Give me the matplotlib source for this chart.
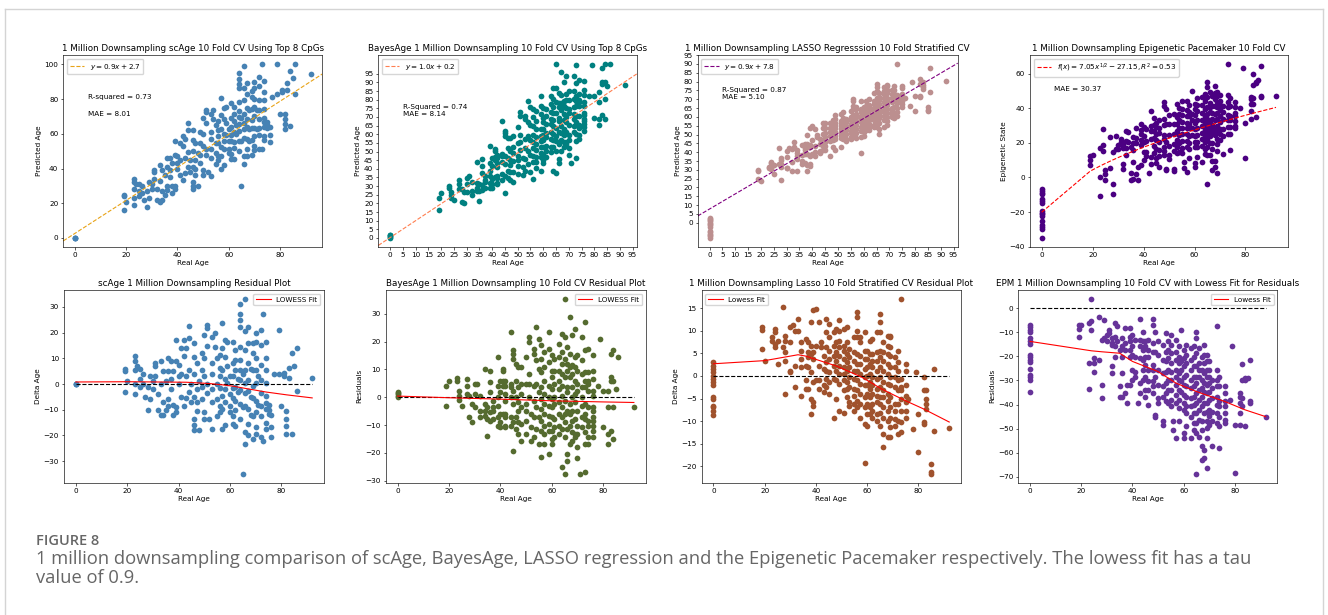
import numpy as np
import matplotlib
matplotlib.use('Agg')
import matplotlib.pyplot as plt
from matplotlib.lines import Line2D

# (real age, predicted - real)
scage_points = [
    (0, 0), (0, 0), (0, 0),
    (19, 6), (19, 5), (19, -3), (20, 1), (23, 11), (23, 9), (23, 5.5), (23, 0), (23, -4),
    (24, 7), (25, 2), (25, -1), (25, 6), (26, 4), (26, 0), (27, -5), (28, -10), (28, -1),
    (29, -6), (29, 3), (30, -2), (30, 1),
    (31, 8), (31, 7), (31, 3), (32, -4), (32, -10), (33, 9), (33, 0), (33, -12), (34, -7),
    (34, 5), (34, -12), (35, -10), (35, 1), (36, 10), (36, 5), (36, -6), (36, -8.5), (37, 9),
    (37, -2), (37, 2), (38, -8), (38, -12), (38, 5), (39, 17), (39, 9), (39, -11), (39, -9),
    (40, 7.5), (40, 0), (40, 3), (41, 14), (41, 4), (41, -5),
    (42, 17), (42, 11), (42, -8.6), (43, 14), (43, 3), (43, -5.4), (44, 22.5), (44, 18),
    (44, 5.5), (44, -3), (45, 0), (45, -7), (46, 16), (46, 10.7), (46, -13.7), (46, -16),
    (46, -18), (46, -5), (46, 4), (47, 8), (47, -2), (47, -7), (47, -10.5), (48, -18), (48, 1),
    (49, 12), (49, 5.5), (49, -1), (49, -6), (50, 19), (50, 10), (50, 3), (50, -11), (50, -13.7),
    (51, 23), (51, 21.8), (51, 15), (51, 0), (51, -3.4), (52, -13.7), (53, 18.4), (53, 8),
    (53, 4), (53, -2), (53, -7), (53, -17.5), (54, 19.7), (54, 14.6), (55, 10), (55, 0),
    (55, -6), (55, -12.4), (56, 11.4), (56, 6.2), (56, 3), (56, -1.5), (56, -8.5), (56, -11),
    (57, 23.6), (57, 14), (57, 5.5), (57, -4.7), (57, -9.8), (57, -17.5), (58, 17), (58, 10.7),
    (58, 2), (58, -2), (58, -7), (58, -16), (59, 16.5), (59, 7), (59, 0.5), (60, -4), (60, -8.5),
    (60, -11), (60, 3),
    (61, 16.5), (61, 8), (61, 3), (61, -1.5), (61, -5.4), (61, -12.4), (61, -15.6), (62, 13.3),
    (62, 9.4), (62, 5.5), (62, -1), (62, -6.6), (62, -10), (62, -16.3), (63, 2), (63, -3),
    (64, 31.3), (64, 27.4), (64, 24.8), (64, 22.3), (64, 14.6), (64, 9.4), (64, 5.5), (64, 1.7),
    (64, -2.2), (64, -7.9), (64, -13.7), (65, -35), (65, 4), (65, -9), (66, 33.2), (66, 20.5),
    (66, 13.3), (66, 5.5), (66, 0.4), (66, -3.5), (66, -8.6), (66, -18.8), (66, -23.3),
    (67, 22.3), (67, 15.9), (67, 8), (67, 1.7), (67, -2.8), (67, -9.8), (67, -15.6), (67, -20),
    (68, 6), (68, -5), (68, -12), (69, 15.9), (69, 12), (69, 5.5), (69, -0.9), (69, -5.4),
    (69, -12.4), (69, -21.4), (70, 19.7), (70, 16.5), (70, 10.2), (70, 5.5), (70, 0.4),
    (70, -6.6), (70, -11), (70, -16.9), (70, -19.5),
    (71, 3), (71, -8), (72, 21), (72, 15.3), (72, 7.5), (72, 1.7), (72, -3.5), (72, -8.6),
    (72, -12.4), (72, -20.8), (73, 27.4), (73, -22), (74, 16.5), (74, 10.2), (74, 5.5),
    (74, 0.4), (74, -4.7), (74, -7.3), (74, -9.8), (74, -15), (74, -17.5), (75, -8), (75, -10),
    (75, -11.7), (76, -16.9), (76, -20.8), (76, -12), (77, 4), (79, 21), (79, 4), (80, -8.6),
    (81, 4.3), (81, 3), (82, -10.5), (82, -13.7), (82, -16.3), (82, -19.5), (83, 6.2), (83, 2.4),
    (84, 12), (84, -19.5), (85, 7), (86, 14), (86, -2.8), (92, 2.4),
]

bayes_points = [
    (0, 0), (0, 0.5), (0, 1), (0, 1.5), (0, 2),
    (19, 4), (19, -3), (20, 6), (23, 7), (23, 6), (24, 2.4), (24, 0.6), (24, -1), (25, -3),
    (27, 6.6), (27, 4), (27, 1.2), (28, -7), (28, 0.6), (29, -9), (29, -2.4), (30, 4.8),
    (30, 1.2), (30, -3.6), (31, 4.8), (32, 0.6), (32, -4.8), (32, -7), (34, 10.2), (34, -2.4),
    (34, -4.8), (34, -6.6), (35, -13.8), (35, -3.6), (35, -7.8), (36, 9.6), (36, 5.4),
    (36, 1.8), (36, -5.4), (36, -8.4), (37, -1.2), (37, -3.6), (37, -4.8), (37, -7.8),
    (39, 14.4), (39, 4.2), (39, 0), (39, -3), (39, -7.2), (39, -10.2), (40, 6), (40, 1.8),
    (40, -6), (40, -9), (40, -10.8), (41, 9.6), (41, 10.2), (41, 6), (41, 4.2), (41, -6),
    (42, 6), (42, 4.2), (42, 1.2), (42, -1.2), (42, -6), (42, -7.2), (42, -10.2), (42, -10.8),
    (44, 23.4), (44, 4.8), (44, 3.6), (44, 0), (44, -7.2), (44, -10.2), (45, 16.8), (45, 15.6),
    (45, 13.8), (45, 2.4), (45, -2.4), (45, -9), (45, -19.2), (46, 12), (46, 6), (46, 0),
    (46, -7.2), (46, -11.4), (47, 10.8), (47, 3.6), (47, -1.8), (47, -4.8), (47, -9),
    (47, -13.2), (48, 10.8), (48, 4.8), (48, 1.2), (48, -3.6), (48, -9.6), (48, -15.6),
    (50, 14.4), (50, 4.8), (50, -2.4), (50, -4.8), (50, -8.4), (50, -13.2), (51, 21.6),
    (51, 19.8), (51, 8.4), (51, 4.8), (51, 0), (52, -6), (52, -10.8), (52, -15.6), (53, 17.4),
    (53, 15.6), (53, 4.2), (53, -1.2), (53, -7.2), (53, -14.4), (54, 25.2), (55, 21),
    (54, 13.2), (55, 10.2), (54, 4.8), (55, 1.8), (54, -3.6), (55, -7.2), (54, -11.4),
    (55, -16.8), (56, 18.6), (56, 13.8), (56, 9), (56, 3.6), (56, -0.6), (56, -4.2), (56, -8.4),
    (56, -12), (56, -21.6), (57, 16.2), (57, 10.8), (57, 6), (57, 1.2), (57, -2.4), (57, -6),
    (57, -10.2), (57, -13.2), (57, -16.8), (59, 23.4), (59, 17.4), (59, 12.6), (59, 4.2),
    (59, 0), (59, -3), (59, -6.6), (59, -9.6), (59, -12), (59, -20.4), (60, 15), (60, 9.6),
    (60, 7.2), (60, 3), (60, -0.6), (60, -3.6), (60, -7.2), (60, -12), (60, -15), (60, -16.8),
    (61, 13.8), (61, 9.6), (61, 4.8), (61, 0), (61, -2.4), (61, -7.8), (61, -10.8), (61, -14.4),
    (63, 19.2), (63, 14.4), (63, 9.6), (63, 6), (63, 3), (63, -1.8), (63, -6), (63, -10.2),
    (63, -13.2), (64, 22.8), (64, 16.2), (64, 12), (64, 8.4), (64, 4.2), (64, 0.6), (64, -3.6),
    (64, -7.2), (64, -11.4), (64, -25.2), (65, 35.4), (65, 21.6), (65, 13.8), (65, 7.2),
    (65, -1.2), (65, -6), (65, -9), (65, -14.4), (65, -27.6), (66, 18), (66, 12), (66, 9.6),
    (66, 3.6), (66, 1.8), (66, -4.8), (66, -11.4), (66, -20.4), (66, -22.8), (67, 28.8),
    (67, 15.6), (67, 10.8), (67, 7.2), (67, -2.4), (67, -6), (67, -10.2), (67, -16.8),
    (68, 22.2), (68, 11.4), (68, 8.4), (68, 3.6), (68, 0), (68, -4.8), (68, -8.4), (68, -12.6),
    (68, -15.6), (69, 24.6), (69, 14.4), (69, 10.8), (69, 6), (69, 1.2), (69, -1.8), (69, -7.8),
    (69, -13.2), (69, -14.4), (70, 15), (70, 9.6), (70, 4.8), (70, 2.4), (70, -4.8), (70, -10.2),
    (70, -13.2), (70, -18), (70, -22), (71, -27.6), (72, 21.6), (72, 13.2), (72, 8.4), (72, 3.6),
    (72, 0), (72, -3), (72, -7.2), (72, -10.8), (73, 27), (73, 16.8), (73, 9), (73, 6), (73, 3.6),
    (73, -2.4), (73, -6), (73, -7.8), (73, -12.6), (73, -16.8), (73, -27), (74, 17.4), (74, 9),
    (74, 6), (74, 4.8), (74, 2.4), (74, -3.6), (74, -8.4), (74, -10.2), (74, -14.4), (74, -16.8),
    (76, 15), (76, 9.6), (76, 6.6), (76, 2.4), (76, 0.6), (76, -3.6), (76, -4.8), (76, -7.2),
    (76, -8.4), (76, -10.2), (76, -12), (76, -14.4), (78, 4.2), (79, 21), (80, -10.8), (80, 2.4),
    (82, 2.4), (82, -3.6), (82, -13.2), (82, -16.8), (83, 15.6), (83, 7.2), (83, 6), (83, -12),
    (84, 16.8), (84, 6), (84, -3.6), (84, -15), (85, 3), (86, 14.4), (92, -3.6),
]

lasso_points = [
    (0, 3.0), (0, 2.3), (0, 1.6), (0, 0.8), (0, 0.1), (0, -0.7), (0, -1.4), (0, -2.1),
    (0, -4.6), (0, -5.1), (0, -6.6), (0, -6.9), (0, -7.7), (0, -8.6),
    (19, 10.8), (19, 10.2), (19, 6.0), (20, 3.4), (23, 8.6), (23, 7.8), (24, 10.4), (24, 9.7),
    (24, 7.1), (24, 6.4), (25, 2.7), (25, 7.8), (27, 15.2), (27, 6.4), (28, 8.9), (28, 7.8),
    (28, 5.2), (28, 3.4), (28, -4.0), (30, 10.9), (30, 7.5), (30, 1.2), (30, 0.8), (31, 11.2),
    (32, 10.0), (32, 2.3), (32, -2.5), (33, 12.6), (33, 10.0), (34, 7.5), (34, 5.6), (34, 3.8),
    (34, 1.9), (34, -4.4), (36, 8.2), (36, 2.3), (36, -1.0), (36, -2.9), (37, 7.5), (37, 5.2),
    (37, 4.1), (37, 1.9), (37, -2.9), (38, 11.9), (38, 6.7), (38, 4.9), (38, 0.8), (38, -5.1),
    (38, -8.4), (39, 14.5), (39, 5.2), (39, 3.8), (39, -1.4), (39, -5.8), (39, -6.6), (40, 14.8),
    (40, 6.7), (40, -1.0), (41, 11.9), (41, 2.3), (41, -1.0), (41, -2.9), (42, 7.5), (42, 6.4),
    (43, 4.5), (43, 1.6), (43, -2.1), (43, -3.6), (44, 12.6), (44, 9.7), (44, 6.4), (44, 3.0),
    (44, 1.2), (44, -0.7), (44, -2.5), (45, 11.5), (45, 8.6), (45, 5.6), (45, 3.8), (45, 0.8),
    (45, -1.4), (45, -4.0), (47, 9.7), (47, 6.7), (47, 4.5), (47, 2.3), (47, -0.7), (47, -9.2),
    (48, 10.4), (48, 7.5), (48, 5.2), (48, 3.4), (48, 1.2), (48, -1.0), (48, -5.1), (49, 12.3),
    (49, 10.0), (49, 7.8), (49, 6.4), (49, 4.5), (49, 2.3), (49, 0.4), (49, -1.8), (49, -7.7),
    (51, 10.4), (51, 6.7), (51, 5.6), (51, 3.8), (51, 1.9), (51, 0.4), (51, -1.0), (51, -3.2),
    (51, -8.1), (52, 10.8), (52, 7.5), (52, 4.9), (52, 3.0), (52, 1.2), (52, -1.4), (52, -2.9),
    (52, -4.7), (53, 6.0), (53, 4.1), (53, 1.9), (53, -0.3), (53, -2.5), (53, -5.8), (53, -6.6),
    (55, 8.6), (55, 5.2), (55, 3.4), (55, 1.2), (55, -0.7), (55, -2.9), (55, -4.4), (55, -6.2),
    (55, -7.7), (56, 14.1), (56, 13.0), (56, 10.0), (56, 8.6), (56, 4.9), (56, 2.7), (56, 1.2),
    (56, -1.0), (56, -3.2), (56, -5.5), (56, -6.9), (57, 8.6), (57, 7.5), (57, 4.5), (57, 2.7),
    (57, 0.4), (57, -1.8), (57, -4.0), (57, -6.2), (57, -9.2), (59, 9.7), (59, 5.6), (59, 3.8),
    (59, 1.6), (59, -0.3), (59, -2.1), (59, -4.7), (59, -6.9), (59, -10.6), (59, -19.3),
    (60, 5.6), (60, 3.8), (60, 1.9), (60, 0.1), (60, -2.1), (60, -4.0), (60, -6.2), (60, -8.4),
    (60, -11.0), (61, 7.8), (61, 4.9), (61, 2.7), (61, 0.4), (61, -1.4), (61, -2.9), (61, -4.7),
    (61, -6.9), (61, -8.4), (62, 8.2), (62, 4.9), (62, 3.4), (62, 1.9), (62, -0.3), (62, -2.1),
    (62, -4.0), (62, -6.2), (62, -7.7), (62, -9.2), (64, 9.7), (64, 5.2), (64, 3.4), (64, 1.2),
    (64, -0.7), (64, -2.9), (64, -4.4), (64, -5.8), (64, -8.4), (64, -9.9), (65, 13.7),
    (65, 11.9), (65, 9.7), (65, 5.6), (65, 4.1), (65, 1.9), (65, -0.3), (65, -2.5), (65, -4.7),
    (65, -6.2), (65, -8.1), (65, -11.0), (66, 7.5), (66, 5.2), (66, 3.4), (66, 1.2), (66, -1.4),
    (66, -3.2), (66, -4.7), (66, -6.9), (66, -9.2), (66, -12.9), (66, -15.8), (68, 8.9),
    (68, 6.7), (68, 4.9), (68, 2.7), (68, 0.4), (68, -1.8), (68, -4.0), (68, -5.5), (68, -7.7),
    (68, -9.9), (68, -13.6), (69, 8.9), (69, 8.6), (69, 6.4), (69, 4.5), (69, 1.9), (69, -0.3),
    (69, -2.1), (69, -4.7), (69, -6.9), (69, -9.2), (69, -11.4), (69, -13.6), (71, 4.1),
    (71, 1.9), (71, -0.3), (71, -2.5), (71, -6.2), (71, -7.7), (71, -9.5), (71, -11.0),
    (72, 5.6), (72, 3.0), (72, 1.2), (72, -1.0), (72, -3.2), (72, -6.2), (72, -9.9), (72, -12.9),
    (73, 17.1), (73, -0.7), (73, -2.5), (73, -3.2), (73, -5.1), (73, -7.7), (73, -10.3),
    (73, -12.5), (75, 2.7), (75, 1.2), (75, -2.1), (75, -4.4), (75, -5.8), (75, -7.7), (75, -9.2),
    (76, -5.1), (78, -11.7), (79, 0.8), (80, -8.4), (80, -16.8), (82, -0.3), (82, -3.2),
    (82, -10.3), (82, -10.6), (83, -3.2), (83, -5.1), (83, -6.2), (83, -7.3), (85, -19.5),
    (85, -21.3), (85, -21.7), (86, 1.6), (86, -12.1), (92, -11.6),
]

# (real age, epigenetic state - real age)
epm_points = [
    (0, -6.9), (0, -7.9), (0, -9.0), (0, -9.7), (0, -12.5), (0, -13.8), (0, -14.8), (0, -19.4),
    (0, -20.3), (0, -21.4), (0, -22.5), (0, -25.3), (0, -27.7), (0, -28.6), (0, -29.7), (0, -35.0),
    (19, -6.9), (19, -8.7), (19, -12.0), (20, -6.9), (23, -22.8), (23, -33.5), (23, -6.2),
    (24, 3.9), (24, -5.5), (24, -9.0), (25, -20.7), (25, -22.8), (25, -26.7), (27, -3.5),
    (27, -21.4), (28, -13.1), (28, -31.8), (28, -37.3), (29, -4.8), (29, -12.5), (30, -13.8),
    (30, -11.1), (31, -9.0), (31, -10.4), (32, -12.5), (32, -14.5), (32, -15.2), (32, -24.2),
    (32, -27.0), (33, -6.2), (33, -11.8), (33, -15.9), (33, -20.1), (34, -7.6), (34, -13.8),
    (35, -17.3), (35, -32.5), (35, -36.7), (36, -12.5), (36, -15.9), (36, -20.1), (36, -27.0),
    (36, -36.7), (37, -8.3), (37, -14.5), (37, -17.3), (37, -35.3), (38, -39.4), (38, -31.8),
    (39, -8.3), (39, -11.8), (39, -13.8), (39, -17.3), (39, -20.1), (39, -31.8), (40, -11.1),
    (40, -15.9), (40, -19.4), (40, -25.6), (40, -29.7), (41, -13.1), (41, -20.1), (41, -26.3),
    (41, -28.4), (42, -39.4), (43, -4.6), (43, -13.1), (43, -15.9), (43, -20.7), (43, -31.1),
    (43, -35.3), (44, -9.7), (44, -13.8), (44, -17.3), (44, -21.4), (44, -25.6), (44, -29.7),
    (45, -13.8), (45, -15.9), (45, -20.1), (45, -23.5), (45, -28.4), (45, -33.9), (45, -36.7),
    (46, -13.1), (46, -17.3), (46, -20.1), (46, -25.6), (46, -30.4), (46, -33.9), (46, -40.1),
    (48, -4.6), (48, -6.9), (48, -14.5), (48, -18.0), (48, -23.5), (48, -25.6), (48, -30.4),
    (48, -32.5), (48, -35.3), (49, -9.7), (49, -18.0), (49, -28.4), (49, -44.3), (49, -45.0),
    (50, -13.8), (50, -19.4), (50, -25.6), (50, -31.8), (50, -37.3), (50, -39.4), (52, -15.2),
    (52, -21.4), (52, -27.0), (52, -32.5), (52, -36.7), (52, -47.0), (52, -48.4), (53, -10.4),
    (53, -18.0), (53, -22.1), (53, -26.3), (53, -31.1), (53, -35.3), (53, -38.7), (54, -13.8),
    (54, -17.3), (54, -20.7), (54, -25.6), (54, -29.7), (54, -33.9), (54, -39.4), (55, -11.1),
    (55, -15.2), (55, -18.7), (55, -22.8), (55, -26.3), (55, -29.7), (55, -33.9), (55, -38.0),
    (55, -40.8), (56, -47.0), (56, -50.5), (57, -13.1), (57, -18.0), (57, -21.4), (57, -25.6),
    (57, -28.4), (57, -31.8), (57, -36.0), (57, -39.4), (57, -53.9), (58, -15.9), (58, -20.1),
    (58, -22.8), (58, -27.0), (58, -29.7), (58, -33.9), (58, -38.0), (58, -41.5), (58, -47.0),
    (59, -9.0), (59, -22.1), (59, -25.6), (59, -30.4), (59, -34.6), (60, -17.3), (60, -20.7),
    (60, -24.2), (60, -28.4), (60, -31.8), (60, -36.0), (60, -39.4), (60, -42.2), (60, -51.9),
    (60, -53.9), (61, -15.2), (61, -19.4), (61, -22.8), (61, -27.7), (61, -32.5), (61, -36.7),
    (61, -40.8), (61, -43.6), (61, -49.1), (63, -16.6), (63, -21.4), (63, -25.6), (63, -29.7),
    (63, -33.2), (63, -37.3), (63, -40.8), (63, -45.0), (63, -53.9), (64, -15.9), (64, -20.1),
    (64, -24.2), (64, -28.4), (64, -32.5), (64, -36.7), (64, -40.1), (64, -43.6), (64, -47.7),
    (64, -50.5), (65, -9.7), (65, -12.5), (65, -18.7), (65, -24.2), (65, -28.4), (65, -31.1),
    (65, -35.3), (65, -39.4), (65, -43.6), (65, -47.7), (65, -51.9), (65, -68.8), (66, -16.6),
    (66, -22.8), (66, -25.6), (66, -28.4), (66, -33.9), (66, -38.0), (66, -42.2), (66, -46.3),
    (66, -53.3), (67, -20.1), (67, -25.6), (67, -29.7), (67, -33.2), (67, -36.7), (67, -40.8),
    (67, -47.0), (67, -50.5), (67, -57.4), (67, -62.9), (68, -15.2), (68, -19.4), (68, -22.8),
    (68, -27.0), (68, -31.1), (68, -34.6), (68, -39.4), (68, -43.6), (68, -58.8), (68, -62.2),
    (69, -19.4), (69, -22.1), (69, -25.6), (69, -28.4), (69, -31.8), (69, -35.3), (69, -39.4),
    (69, -42.9), (69, -47.0), (69, -49.8), (69, -53.9), (69, -66.4), (70, -22.1), (70, -25.6),
    (70, -28.4), (70, -31.1), (70, -34.6), (70, -38.0), (70, -42.2), (70, -44.9), (70, -48.4),
    (71, -29.7), (71, -33.2), (71, -37.3), (71, -42.9), (71, -47.0), (71, -57.4), (73, -7.3),
    (73, -25.6), (73, -29.7), (73, -32.5), (73, -36.7), (73, -40.1), (73, -43.6), (73, -47.7),
    (74, -28.4), (74, -32.5), (74, -38.7), (74, -40.8), (74, -45.0), (74, -49.1), (74, -58.1),
    (76, -32.5), (76, -35.3), (76, -38.7), (76, -40.8), (76, -43.6), (76, -46.3), (76, -47.7),
    (78, -38.0), (79, -15.9), (80, -68.5), (80, -48.4), (82, -35.3), (82, -36.7), (82, -39.4),
    (82, -43.6), (82, -48.4), (83, -23.2), (83, -29.7), (83, -37.3), (83, -40.8), (84, -29.0),
    (84, -29.7), (84, -49.1), (85, -28.8), (86, -21.4), (86, -38.7), (86, -39.4), (92, -45.0),
]

# lowess curves as drawn in the residual panels
scage_lowess = [(0, 0.8), (20, 0.9), (43, 0.7), (52, 0.2), (57, -0.3), (61, -0.8),
                (66, -1.7), (74, -3.1), (82, -4.2), (92, -5.4)]
bayes_lowess = [(0, 0.4), (20, -0.2), (40, -0.7), (60, -1.3), (80, -1.7), (92, -1.9)]
lasso_lowess = [(0, 2.7), (20, 3.4), (33, 4.7), (36, 4.4), (48, 2.2), (58, -0.3),
                (66, -3.0), (75, -5.5), (82, -7.3), (92, -10.2)]
epm_lowess = [(0, -13.8), (24, -17.7), (28, -18.1), (35, -18.7), (40, -22.1), (50, -26.3),
              (57, -31.1), (65, -34.6), (76, -38.7), (84, -42.2), (92, -45.0)]

# fitted lines shown in the top row (slope, intercept)
scage_fit = (0.95, 2.7)
bayes_fit = (0.98, 0.2)
lasso_fit = (0.855, 7.8)
epm_fit = (7.05, -27.15)

W, H = 1328, 615
DOT = 17
fig = plt.figure(figsize=(W / 100, H / 100), dpi=100)


def px_axes(x0, y0, x1, y1):
    return fig.add_axes([x0 / W, 1 - y1 / H, (x1 - x0) / W, (y1 - y0) / H])


def style(ax, title, xlabel, ylabel):
    ax.set_title(title, fontsize=6.3, pad=3)
    ax.set_xlabel(xlabel, fontsize=5.2, labelpad=2)
    ax.set_ylabel(ylabel, fontsize=5.2, labelpad=2)
    ax.tick_params(labelsize=5.2, length=1.8, width=0.45, pad=1.8)
    for s in ax.spines.values():
        s.set_linewidth(0.45)


def unpack(points):
    arr = np.array(points, dtype=float)
    return arr[:, 0], arr[:, 1]


def residual_panel(ax, points, lowess, color, title, ylabel, label, loc):
    age, res = unpack(points)
    ax.scatter(age, res, s=DOT, color=color, linewidths=0)
    ax.hlines(0, age.min(), age.max(), colors='k', linestyles='--', lw=0.8)
    lx, ly = unpack(lowess)
    ax.plot(lx, ly, color='red', lw=0.8, label=label)
    ax.legend(loc=loc, fontsize=5.2)
    style(ax, title, 'Real Age', ylabel)


# top row
ax = px_axes(63.3, 55, 322.3, 246.7)
age, res = unpack(scage_points)
ax.scatter(age, age + res, s=DOT, color='steelblue', linewidths=0)
ax.axline((0, scage_fit[1]), slope=scage_fit[0], ls='--', color='#e8a317', lw=0.8,
          label=r'$y = 0.9x + 2.7$')
ax.text(5, 80, 'R-squared = 0.73', fontsize=5.2)
ax.text(5, 70, 'MAE = 8.01', fontsize=5.2)
ax.legend(loc='upper left', fontsize=5.2)
style(ax, '1 Million Downsampling scAge 10 Fold CV Using Top 8 CpGs', 'Real Age', 'Predicted Age')

ax = px_axes(378.3, 55, 636.7, 246.7)
age, res = unpack(bayes_points)
ax.scatter(age, age + res, s=DOT, color='teal', linewidths=0)
ax.axline((0, bayes_fit[1]), slope=bayes_fit[0], ls='--', color='coral', lw=0.8,
          label=r'$y = 1.0x + 0.2$')
ax.text(5, 73.8, 'R-Squared = 0.74\nMAE = 8.14', fontsize=5.2, va='center')
ax.set_xticks(np.arange(0, 100, 5))
ax.set_yticks(np.arange(0, 100, 5))
ax.legend(loc='upper left', fontsize=5.2)
style(ax, 'BayesAge 1 Million Downsampling 10 Fold CV Using Top 8 CpGs', 'Real Age', 'Predicted Age')

ax = px_axes(697.7, 55, 957.7, 246.7)
age, res = unpack(lasso_points)
ax.scatter(age, age + res, s=DOT, color='rosybrown', linewidths=0)
ax.axline((0, lasso_fit[1]), slope=lasso_fit[0], ls='--', color='purple', lw=0.8,
          label=r'$y = 0.9x + 7.8$')
ax.text(5, 73, 'R-Squared = 0.87\nMAE = 5.10', fontsize=5.2, va='center')
ax.set_xticks(np.arange(0, 100, 5))
ax.set_yticks(np.arange(0, 100, 5))
ax.legend(loc='upper left', fontsize=5.2)
style(ax, '1 Million Downsampling LASSO Regresssion 10 Fold Stratified CV', 'Real Age', 'Predicted Age')

ax = px_axes(1030, 55, 1287.7, 246.7)
age, res = unpack(epm_points)
ax.scatter(age, age + res, s=DOT, color='indigo', linewidths=0)
fx = np.concatenate([[1], np.unique(age[age > 0])])
ax.plot(np.where(fx == 1, 0, fx), epm_fit[0] * np.sqrt(fx) + epm_fit[1], ls='--', color='red',
        lw=0.8, label=r'$f(x) = 7.05x^{1/2} - 27.15, R^2 = 0.53$')
ax.text(5, 51, 'MAE = 30.37', fontsize=5.2, va='center')
ax.legend(loc='upper left', fontsize=5.2)
style(ax, '1 Million Downsampling Epigenetic Pacemaker 10 Fold CV', 'Real Age', 'Epigenetic State')

# bottom row
residual_panel(px_axes(64, 290, 324, 482.7), scage_points, scage_lowess, 'steelblue',
               'scAge 1 Million Downsampling Residual Plot', 'Delta Age', 'LOWESS Fit', 'upper right')
residual_panel(px_axes(385.7, 290, 645.7, 482.7), bayes_points, bayes_lowess, 'darkolivegreen',
               'BayesAge 1 Million Downsampling 10 Fold CV Residual Plot', 'Residuals', 'LOWESS Fit',
               'upper right')
residual_panel(px_axes(701.7, 290, 961, 482.7), lasso_points, lasso_lowess, 'sienna',
               '1 Million Downsampling Lasso 10 Fold Stratified CV Residual Plot', 'Delta Age',
               'Lowess Fit', 'upper left')
residual_panel(px_axes(1018.3, 290, 1277.3, 482.7), epm_points, epm_lowess, 'rebeccapurple',
               'EPM 1 Million Downsampling 10 Fold CV with Lowess Fit for Residuals', 'Residuals',
               'Lowess Fit', 'upper right')

# page frame and caption
frame = '#d4d4d4'
fig.add_artist(Line2D([5 / W, 1322.5 / W], [1 - 9 / H, 1 - 9 / H], color=frame, lw=1))
fig.add_artist(Line2D([5 / W, 5 / W], [0, 1 - 9 / H], color=frame, lw=1))
fig.add_artist(Line2D([1322.5 / W, 1322.5 / W], [0, 1 - 9 / H], color=frame, lw=1))

fig.text(36 / W, 1 - 541 / H, 'FIGURE 8', family='Open Sans', fontsize=10.5,
         fontweight='semibold', color='#666666', va='center')
fig.text(36 / W, 1 - 559 / H, '1 million downsampling comparison of scAge, BayesAge, LASSO '
         'regression and the Epigenetic Pacemaker respectively. The lowess fit has a tau',
         family='Open Sans', fontsize=13.2, color='#666666', va='center')
fig.text(36 / W, 1 - 578 / H, 'value of 0.9.', family='Open Sans', fontsize=13.2,
         color='#666666', va='center')

fig.savefig('out.png', dpi=100)
